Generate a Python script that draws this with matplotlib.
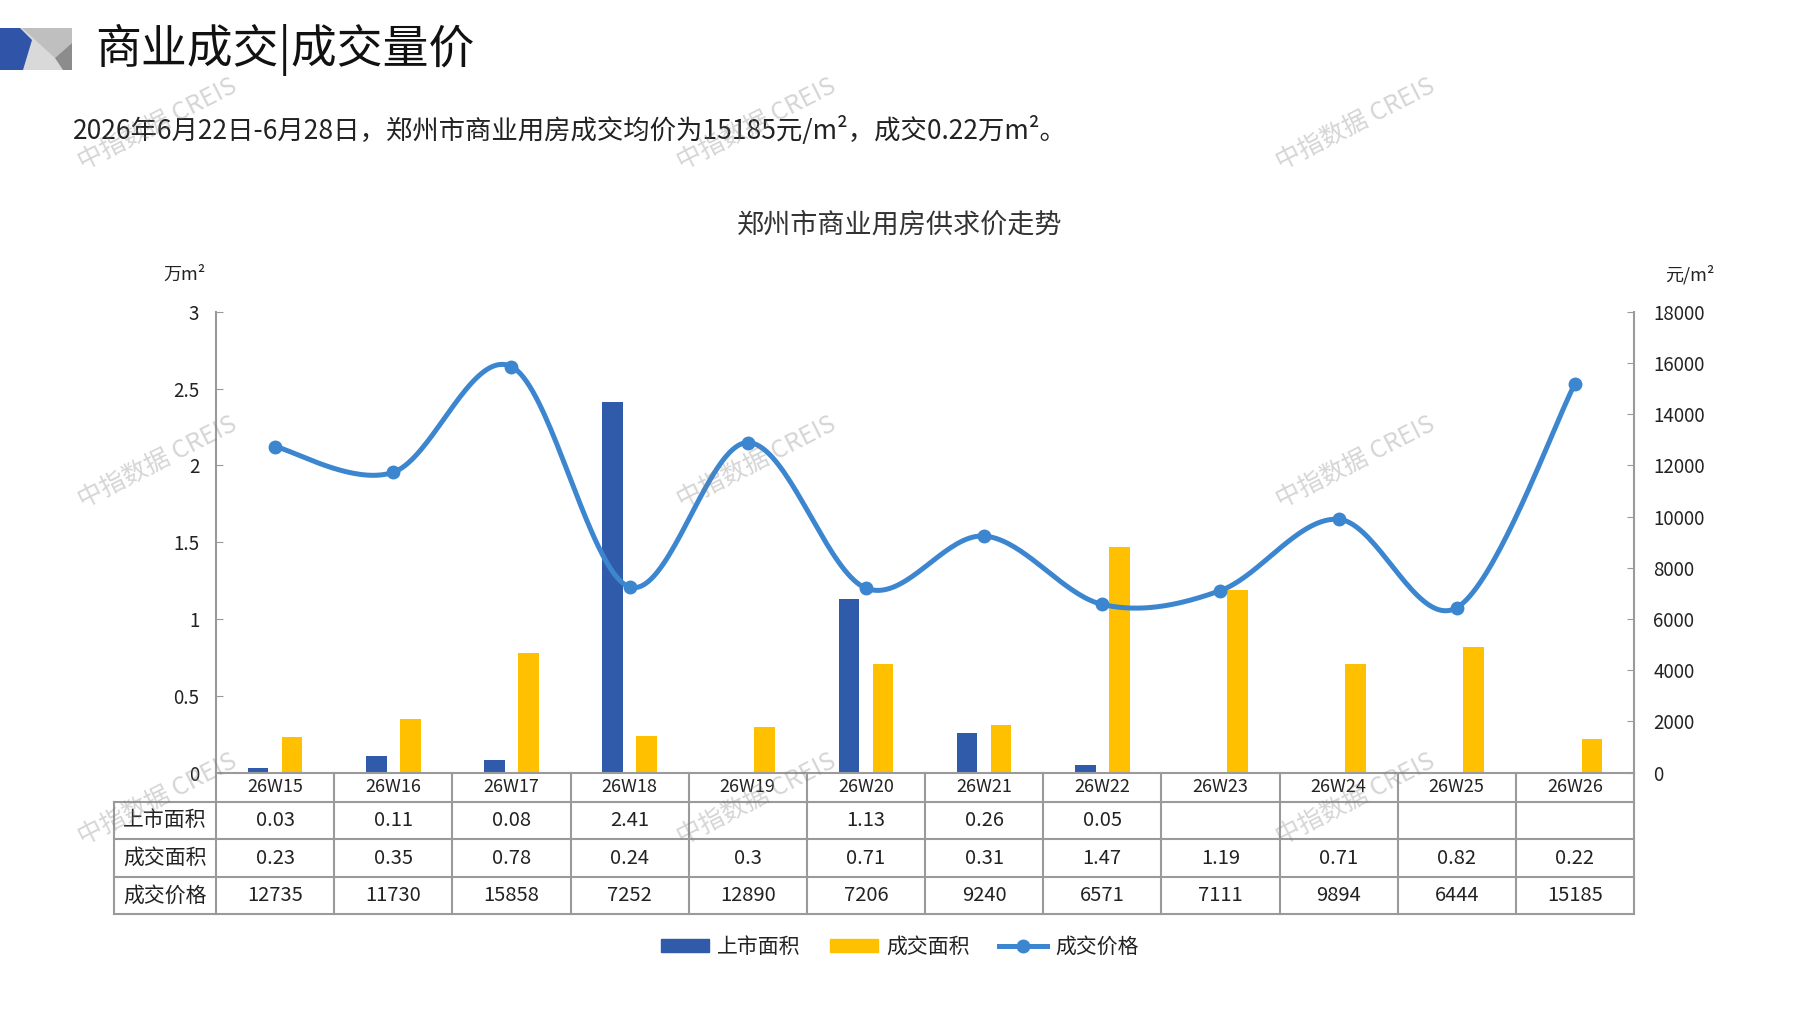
import numpy as np
import matplotlib
matplotlib.use('Agg')
import matplotlib.pyplot as plt
from matplotlib.patches import Polygon, Patch
from matplotlib.lines import Line2D
from matplotlib.transforms import blended_transform_factory

plt.rcParams['font.family'] = ['Noto Sans CJK SC', 'DejaVu Sans']

# data
weeks = ['26W15', '26W16', '26W17', '26W18', '26W19', '26W20',
         '26W21', '26W22', '26W23', '26W24', '26W25', '26W26']
supply = [0.03, 0.11, 0.08, 2.41, np.nan, 1.13, 0.26, 0.05, np.nan, np.nan, np.nan, np.nan]
deal = [0.23, 0.35, 0.78, 0.24, 0.3, 0.71, 0.31, 1.47, 1.19, 0.71, 0.82, 0.22]
price = [12735, 11730, 15858, 7252, 12890, 7206, 9240, 6571, 7111, 9894, 6444, 15185]
row_names = ['上市面积', '成交面积', '成交价格']
series_names = ['上市面积', '成交面积', '成交价格']

BLUE = '#2F5BAA'
YELLOW = '#FFC000'
LINE = '#3C86D0'
GRID = '#9a9a9a'
TXT = '#222222'

W, H = 1797, 1010
fig = plt.figure(figsize=(W / 100, H / 100), dpi=100)


def px(x0, y0, x1, y1):
    return [x0 / W, 1 - y1 / H, (x1 - x0) / W, (y1 - y0) / H]


# overlay in pixel coords for header, table, watermarks
ov = fig.add_axes([0, 0, 1, 1], zorder=5)
ov.set_xlim(0, W)
ov.set_ylim(H, 0)
ov.axis('off')

ax = fig.add_axes(px(216, 311.7, 1634, 772.7), zorder=1)
x = np.arange(len(weeks))
ax.bar(x - 0.144, supply, 0.175, color=BLUE, zorder=2)
ax.bar(x + 0.144, deal, 0.175, color=YELLOW, zorder=2)
ax.set_xlim(-0.5, len(weeks) - 0.5)
ax.set_ylim(0, 3)
ax.set_yticks(np.arange(0, 3.01, 0.5))
ax.set_yticklabels(['0', '0.5', '1', '1.5', '2', '2.5', '3'])
ax.set_xticks([])
for s in ['top', 'right']:
    ax.spines[s].set_visible(False)
for s in ['left', 'bottom']:
    ax.spines[s].set_color(GRID)
    ax.spines[s].set_linewidth(1.5)
ax.tick_params(axis='y', direction='in', length=5, color=GRID, pad=12,
               labelsize=13.5, labelcolor=TXT)


def smooth(xs, ys, n=40):
    # bezier smoothing through the points, like a spreadsheet "smoothed line"
    P = np.column_stack([xs, ys]).astype(float)
    P = np.vstack([P[0], P, P[-1]])
    out = []
    t = np.linspace(0, 1, n)[:, None]
    for i in range(1, len(P) - 2):
        p0, p1, p2, p3 = P[i - 1], P[i], P[i + 1], P[i + 2]
        c1 = p1 + (p2 - p0) / 6
        c2 = p2 - (p3 - p1) / 6
        seg = (1 - t) ** 3 * p1 + 3 * (1 - t) ** 2 * t * c1 + 3 * (1 - t) * t ** 2 * c2 + t ** 3 * p2
        out.append(seg if i == 1 else seg[1:])
    return np.vstack(out)


ax2 = ax.twinx()
ax2.set_ylim(0, 18000)
ax2.set_yticks(np.arange(0, 18001, 2000))
curve = smooth(x, price)
ax2.plot(curve[:, 0], curve[:, 1], color=LINE, lw=3.6, solid_capstyle='round', zorder=3)
ax2.plot(x, price, 'o', color=LINE, ms=9, zorder=4)
for s in ['top', 'left', 'bottom']:
    ax2.spines[s].set_visible(False)
ax2.spines['right'].set_color(GRID)
ax2.spines['right'].set_linewidth(1.5)
ax2.tick_params(axis='y', direction='in', length=5, color=GRID, pad=14,
                labelsize=13.5, labelcolor=TXT)

# data table under the plot
tr = blended_transform_factory(ax.transData, ov.transData)
rows_y = [772.7, 801.7, 839, 877, 914]
left_px = 114
lw = 1.5
for yy in rows_y[1:]:
    ov.plot([left_px, 1634], [yy, yy], color=GRID, lw=lw)
for i in range(len(weeks) + 1):
    ov.plot([i - 0.5, i - 0.5], [rows_y[0], rows_y[-1]], color=GRID, lw=lw, transform=tr)
ov.plot([left_px, left_px], [rows_y[1], rows_y[-1]], color=GRID, lw=lw)

centers = [(rows_y[k] + rows_y[k + 1]) / 2 for k in range(4)]


def fmt(v, is_int=False):
    if v is None or (isinstance(v, float) and np.isnan(v)):
        return ''
    return str(int(v)) if is_int else str(v)


for i, wk in enumerate(weeks):
    ov.text(i, centers[0], wk, transform=tr, ha='center', va='center', fontsize=13, color=TXT)
    ov.text(i, centers[1], fmt(supply[i]), transform=tr, ha='center', va='center', fontsize=14.5, color=TXT)
    ov.text(i, centers[2], fmt(deal[i]), transform=tr, ha='center', va='center', fontsize=14.5, color=TXT)
    ov.text(i, centers[3], fmt(price[i], True), transform=tr, ha='center', va='center', fontsize=14.5, color=TXT)
for k, name in enumerate(row_names):
    ov.text((left_px + 216) / 2, centers[k + 1], name, ha='center', va='center', fontsize=15, color=TXT)

# axis unit labels and chart title
ov.text(184, 275, '万m²', ha='center', va='center', fontsize=13, color=TXT)
ov.text(1690, 275, '元/m²', ha='center', va='center', fontsize=13, color=TXT)
ov.text(900, 225, '郑州市商业用房供求价走势', ha='center', va='center', fontsize=19.5, color='#333333')

# page header
ov.add_patch(Polygon([(20, 28), (72, 28), (72, 70), (20, 70)], closed=True, color='#D9D9D9', lw=0))
ov.add_patch(Polygon([(22, 28), (72, 28), (72, 43), (55, 58)], closed=True, color='#BFBFBF', lw=0))
ov.add_patch(Polygon([(72, 43), (72, 70), (63, 70), (55, 58)], closed=True, color='#8C8C8C', lw=0))
ov.add_patch(Polygon([(0, 28), (20, 28), (32, 40), (23, 70), (0, 70)], closed=True, color='#2F54A8', lw=0))
ov.text(95, 50, '商业成交|成交量价', ha='left', va='center', fontsize=33, color='#111111')
ov.text(73, 130, '2026年6月22日-6月28日，郑州市商业用房成交均价为15185元/m²，成交0.22万m²。',
        ha='left', va='center', fontsize=19, color=TXT)

# watermarks
for wx in [158, 757, 1356]:
    for wy in [124, 462, 799]:
        ov.text(wx, wy, '中指数据 CREIS', ha='center', va='center', fontsize=18,
                rotation=27, color='#808080', alpha=0.33, zorder=10)

handles = [Patch(color=BLUE), Patch(color=YELLOW),
           Line2D([], [], color=LINE, lw=3.6, marker='o', ms=9)]
fig.legend(handles, series_names, loc='center', bbox_to_anchor=(900 / W, 1 - 947 / H),
           ncol=3, frameon=False, fontsize=15, handlelength=2.3, handleheight=0.6,
           handletextpad=0.4, columnspacing=1.4, labelcolor=TXT)

fig.savefig('out.png', dpi=100)
